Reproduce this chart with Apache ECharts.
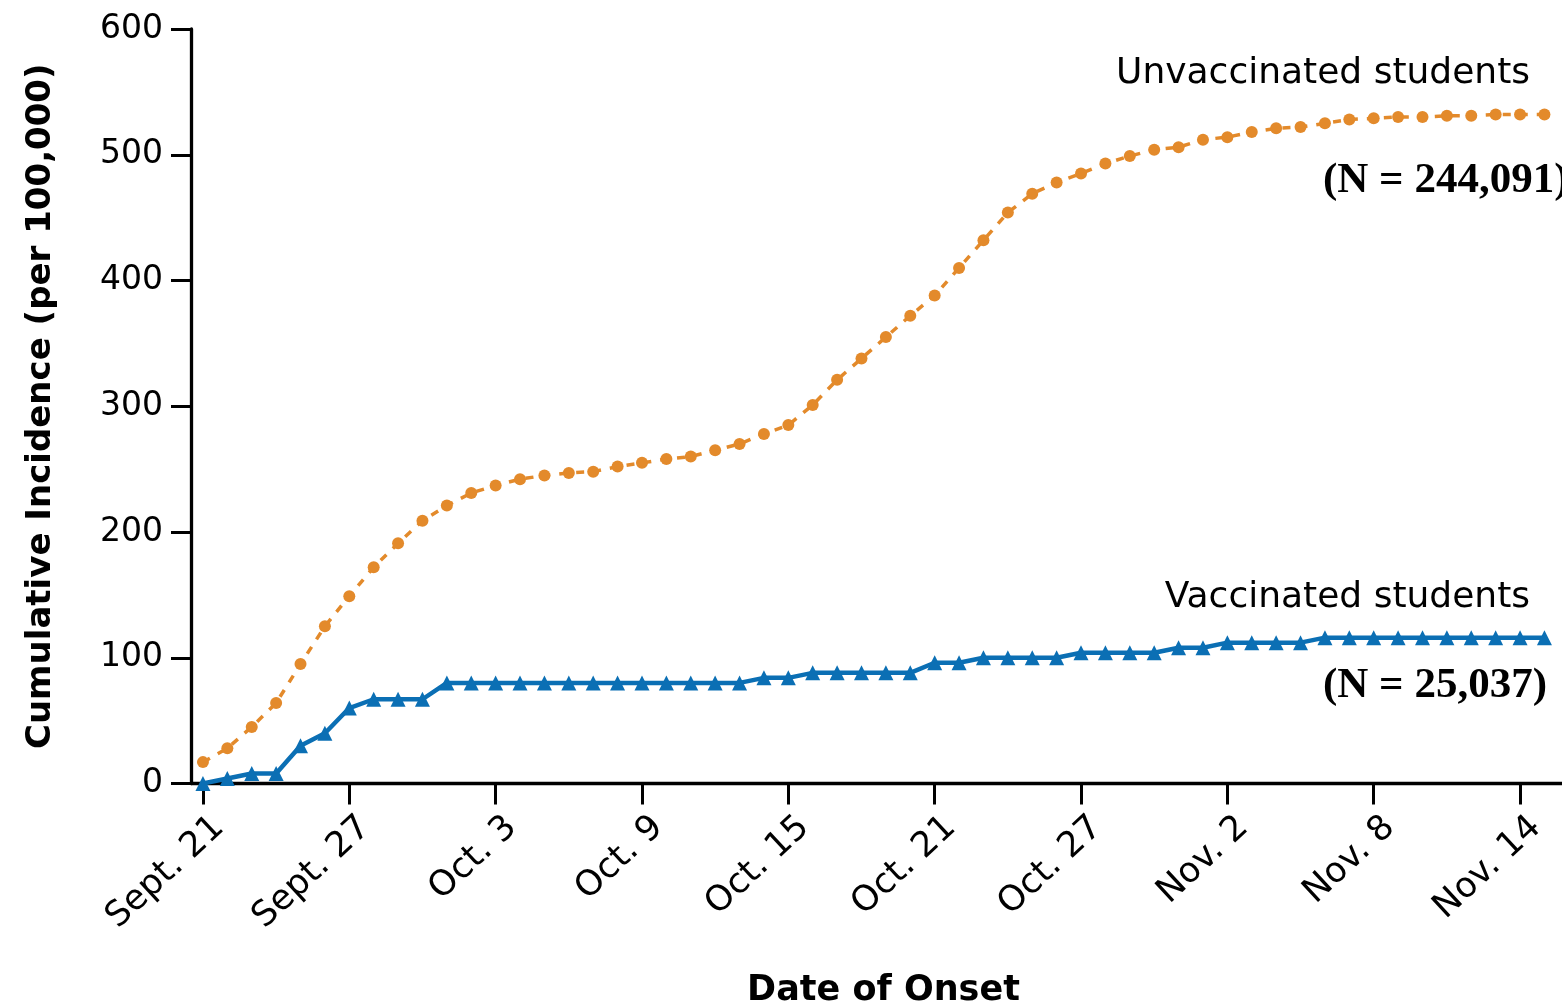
<!DOCTYPE html>
<html><head><meta charset="utf-8">
<script src="https://cdn.jsdelivr.net/npm/echarts@6/dist/echarts.min.js"></script>
<style>html,body{margin:0;padding:0;background:#fff}#c{width:1562px;height:1007px}</style>
</head><body><div id="c"></div>
<script>
// Daily dates, Sept. 21 -> Nov. 15
const dates = [
  'Sept. 21','Sept. 22','Sept. 23','Sept. 24','Sept. 25','Sept. 26','Sept. 27','Sept. 28','Sept. 29','Sept. 30',
  'Oct. 1','Oct. 2','Oct. 3','Oct. 4','Oct. 5','Oct. 6','Oct. 7','Oct. 8','Oct. 9','Oct. 10',
  'Oct. 11','Oct. 12','Oct. 13','Oct. 14','Oct. 15','Oct. 16','Oct. 17','Oct. 18','Oct. 19','Oct. 20',
  'Oct. 21','Oct. 22','Oct. 23','Oct. 24','Oct. 25','Oct. 26','Oct. 27','Oct. 28','Oct. 29','Oct. 30','Oct. 31',
  'Nov. 1','Nov. 2','Nov. 3','Nov. 4','Nov. 5','Nov. 6','Nov. 7','Nov. 8','Nov. 9','Nov. 10',
  'Nov. 11','Nov. 12','Nov. 13','Nov. 14','Nov. 15'
];
const tickLabels = ['Sept. 21','Sept. 27','Oct. 3','Oct. 9','Oct. 15','Oct. 21','Oct. 27','Nov. 2','Nov. 8','Nov. 14'];
const yTicks = [0, 100, 200, 300, 400, 500, 600];

// Cumulative incidence per 100,000
const unvaccinated = [
  17, 28, 45, 64, 95, 125, 149, 172, 191, 209,
  221, 231, 237, 242, 245, 247, 248, 252, 255, 258,
  260, 265, 270, 278, 285, 301, 321, 338, 355, 372,
  388, 410, 432, 454, 469, 478, 485, 493, 499, 504, 506,
  512, 514, 518, 521, 522, 525, 528, 529, 530, 530,
  531, 531, 532, 532, 532
];
const vaccinated = [
  0, 4, 8, 8, 30, 40, 60, 67, 67, 67,
  80, 80, 80, 80, 80, 80, 80, 80, 80, 80,
  80, 80, 80, 84, 84, 88, 88, 88, 88, 88,
  96, 96, 100, 100, 100, 100, 104, 104, 104, 104, 108,
  108, 112, 112, 112, 112, 116, 116, 116, 116, 116,
  116, 116, 116, 116, 116
];

const tickDays = tickLabels.map(l => dates.indexOf(l));
const X_MIN = -0.49, X_MAX = 55.72, LABEL_SHIFT = 0.66;
const FONT = '"DejaVu Sans", "Open Sans", sans-serif';
const ORANGE = '#E38A2B', BLUE = '#0B6FB4';

const chart = echarts.init(document.getElementById('c'), null, {renderer: 'canvas'});
chart.setOption({
  animation: false,
  backgroundColor: '#ffffff',
  grid: {left: 191, right: 0, top: 29, bottom: 223.5, containLabel: false, outerBoundsMode: 'none'},
  xAxis: [{
    type: 'value', position: 'bottom', min: X_MIN, max: X_MAX,
    axisLine: {show: true, onZero: false, lineStyle: {color: '#000', width: 3.3}},
    axisTick: {show: true, customValues: tickDays, length: 21, lineStyle: {color: '#000', width: 3}},
    axisLabel: {show: false},
    splitLine: {show: false},
    name: 'Date of Onset', nameLocation: 'middle', nameGap: 190,
    nameTextStyle: {fontFamily: FONT, fontWeight: 'bold', fontSize: 35, color: '#000', padding: [0, 0, 0, 14]}
  }, {
    type: 'value', position: 'bottom', min: X_MIN - LABEL_SHIFT, max: X_MAX - LABEL_SHIFT,
    axisLine: {show: false, onZero: false}, axisTick: {show: false}, splitLine: {show: false},
    axisLabel: {
      show: true, customValues: tickDays, rotate: 43, margin: 39,
      formatter: v => tickLabels[tickDays.indexOf(Math.round(v))],
      fontFamily: FONT, fontSize: 35, color: '#000'
    }
  }],
  yAxis: {
    type: 'value', min: 0, max: 600, interval: 100,
    axisLine: {show: true, onZero: false, lineStyle: {color: '#000', width: 3.3}},
    axisTick: {show: true, length: 20, lineStyle: {color: '#000', width: 3}},
    axisLabel: {margin: 28, fontFamily: FONT, fontSize: 33, color: '#000',
      formatter: v => yTicks.indexOf(v) >= 0 ? String(v) : ''},
    splitLine: {show: false},
    name: 'Cumulative Incidence (per 100,000)', nameLocation: 'middle', nameGap: 133,
    nameTextStyle: {fontFamily: FONT, fontWeight: 'bold', fontSize: 34, color: '#000'}
  },
  series: [{
    name: 'Unvaccinated students', type: 'line', xAxisIndex: 0,
    data: unvaccinated.map((v, i) => [i, v]),
    symbol: 'circle', symbolSize: 12, showSymbol: true,
    lineStyle: {color: ORANGE, width: 3.5, type: [8, 9]},
    itemStyle: {color: ORANGE}, z: 2
  }, {
    name: 'Vaccinated students', type: 'line', xAxisIndex: 0,
    data: vaccinated.map((v, i) => [i, v]),
    symbol: 'triangle', symbolSize: 15, showSymbol: true,
    lineStyle: {color: BLUE, width: 4.5},
    itemStyle: {color: BLUE}, z: 3
  }],
  graphic: [
    {type: 'text', x: 1530, y: 74, style: {text: 'Unvaccinated students', font: '36px ' + FONT, fill: '#000', align: 'right', verticalAlign: 'middle'}},
    {type: 'text', x: 1323, y: 181, style: {text: '(N = 244,091)', font: 'bold 43px "Liberation Serif", serif', fill: '#000', align: 'left', verticalAlign: 'middle'}},
    {type: 'text', x: 1530, y: 598, style: {text: 'Vaccinated students', font: '36px ' + FONT, fill: '#000', align: 'right', verticalAlign: 'middle'}},
    {type: 'text', x: 1323, y: 686, style: {text: '(N = 25,037)', font: 'bold 43px "Liberation Serif", serif', fill: '#000', align: 'left', verticalAlign: 'middle'}}
  ]
});
</script></body></html>
